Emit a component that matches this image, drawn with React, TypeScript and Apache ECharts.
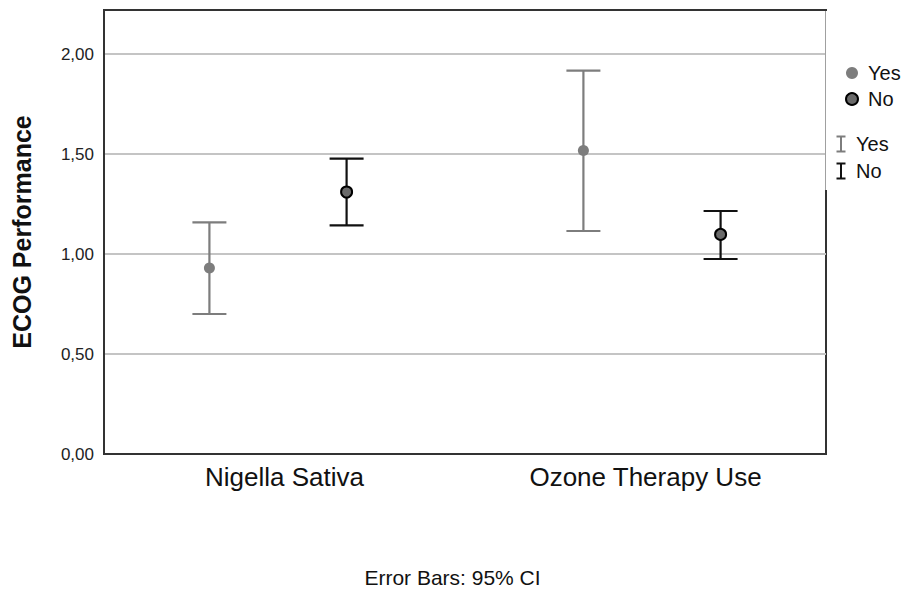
import React, { useEffect, useRef } from "react";
import * as echarts from "echarts";

const categories = ["Nigella Sativa", "Ozone Therapy Use"];
const groups = ["Yes", "No"];
const yesMean = [0.93, 1.517];
const yesLower = [0.70, 1.115];
const yesUpper = [1.158, 1.917];
const noMean = [1.31, 1.098];
const noLower = [1.143, 0.975];
const noUpper = [1.477, 1.215];
const yTicks = [0, 0.5, 1.0, 1.5, 2.0];

const GREY = "#7d7d7d";
const BLACK = "#111111";
const FONT = "'Liberation Sans', Arial, sans-serif";

function makeData(mean: number[], lo: number[], hi: number[]) {
  return categories.map((_, i) => [i, mean[i], lo[i], hi[i]]);
}

function makeRender(side: number, lineColor: string, fill: string, border: string) {
  return (params: any, api: any) => {
    const xi = api.value(0);
    const pM = api.coord([xi, api.value(1)]);
    const pLo = api.coord([xi, api.value(2)]);
    const pHi = api.coord([xi, api.value(3)]);
    const band = api.size([1, 0])[0];
    // groups sit slightly away from the plot centre
    const outward = xi === 0 ? -1 : 1;
    const cx = pM[0] + side * band * 0.19 + outward * band * 0.018;
    const half = 17;
    const ls = { stroke: lineColor, lineWidth: 2.2 };
    return {
      type: "group",
      children: [
        { type: "line", shape: { x1: cx, y1: pLo[1], x2: cx, y2: pHi[1] }, style: ls },
        { type: "line", shape: { x1: cx - half, y1: pHi[1], x2: cx + half, y2: pHi[1] }, style: ls },
        { type: "line", shape: { x1: cx - half, y1: pLo[1], x2: cx + half, y2: pLo[1] }, style: ls },
        {
          type: "circle",
          shape: { cx, cy: pM[1], r: 5.5 },
          style: { fill, stroke: border, lineWidth: border === "none" ? 0 : 2 },
        },
      ],
    };
  };
}

export default function App() {
  const ref = useRef<HTMLDivElement>(null);
  useEffect(() => {
    if (!ref.current) return;
    const chart = echarts.init(ref.current, null, { renderer: "svg" });
    const barGlyph = (x: number, y: number, color: string) => ({
      type: "group",
      children: [
        { type: "line", shape: { x1: x, y1: y - 7.5, x2: x, y2: y + 7.5 }, style: { stroke: color, lineWidth: 2 } },
        { type: "line", shape: { x1: x - 4.5, y1: y - 7.5, x2: x + 4.5, y2: y - 7.5 }, style: { stroke: color, lineWidth: 2 } },
        { type: "line", shape: { x1: x - 4.5, y1: y + 7.5, x2: x + 4.5, y2: y + 7.5 }, style: { stroke: color, lineWidth: 2 } },
      ],
    });
    chart.setOption({
      animation: false,
      backgroundColor: "#ffffff",
      textStyle: { fontFamily: FONT },
      grid: { left: 104, right: 79, top: 10, bottom: 136, show: true, borderColor: "#333", borderWidth: 2 },
      legend: {
        orient: "vertical",
        left: 840,
        top: 58,
        itemWidth: 22,
        itemHeight: 12,
        itemGap: 6,
        textStyle: { fontSize: 20, color: "#111", fontFamily: FONT },
        data: [
          { name: groups[0], icon: "circle", itemStyle: { color: GREY, borderWidth: 0 } },
          { name: groups[1], icon: "circle", itemStyle: { color: "#6a6a6a", borderColor: "#000", borderWidth: 2 } },
        ],
      },
      xAxis: {
        type: "category",
        data: categories,
        axisLine: { show: true, lineStyle: { color: "#333", width: 2 } },
        axisTick: { show: false },
        axisLabel: { fontSize: 26, color: "#111", margin: 10, fontFamily: FONT },
        splitLine: { show: false },
      },
      yAxis: {
        type: "value",
        min: 0,
        max: 2.22,
        interval: 0.5,
        name: "ECOG Performance",
        nameLocation: "middle",
        nameGap: 70,
        nameTextStyle: { fontSize: 25, fontWeight: "bold", color: "#111", fontFamily: FONT },
        axisLine: { show: true, lineStyle: { color: "#333", width: 2 } },
        axisTick: { show: false },
        axisLabel: {
          fontSize: 17,
          color: "#222",
          margin: 10,
          fontFamily: FONT,
          formatter: (v: number) =>
            yTicks.some((t) => Math.abs(t - v) < 1e-6) ? v.toFixed(2).replace(".", ",") : "",
        },
        splitLine: { show: true, showMinLine: false, showMaxLine: false, lineStyle: { color: "#c4c4c4", width: 2 } },
      },
      graphic: [
        { type: "line", shape: { x1: 826, y1: 11, x2: 826, y2: 190 }, style: { stroke: "#a0a0a0", lineWidth: 2 }, z: 100 },
        { type: "line", shape: { x1: 826.5, y1: 11, x2: 826.5, y2: 190 }, style: { stroke: "#ffffff", lineWidth: 1 }, z: 101 },
        barGlyph(841, 144, GREY),
        { type: "text", left: 856, top: 134, style: { text: "Yes", fontSize: 20, fill: "#111", fontFamily: FONT } },
        barGlyph(841, 171, BLACK),
        { type: "text", left: 856, top: 161, style: { text: "No", fontSize: 20, fill: "#111", fontFamily: FONT } },
        {
          type: "text",
          left: "center",
          top: 567,
          style: { text: "Error Bars: 95% CI", fontSize: 21, fill: "#111", fontFamily: FONT },
        },
      ],
      series: [
        {
          name: groups[0],
          type: "custom",
          itemStyle: { color: GREY },
          data: makeData(yesMean, yesLower, yesUpper),
          renderItem: makeRender(-1, GREY, GREY, "none"),
          encode: { x: 0, y: [1, 2, 3] },
        },
        {
          name: groups[1],
          type: "custom",
          itemStyle: { color: "#6a6a6a" },
          data: makeData(noMean, noLower, noUpper),
          renderItem: makeRender(1, BLACK, "#6a6a6a", "#000"),
          encode: { x: 0, y: [1, 2, 3] },
        },
      ],
    });
    return () => chart.dispose();
  }, []);
  return <div ref={ref} style={{ position: "fixed", left: 0, top: 0, width: 905, height: 590 }} />;
}
